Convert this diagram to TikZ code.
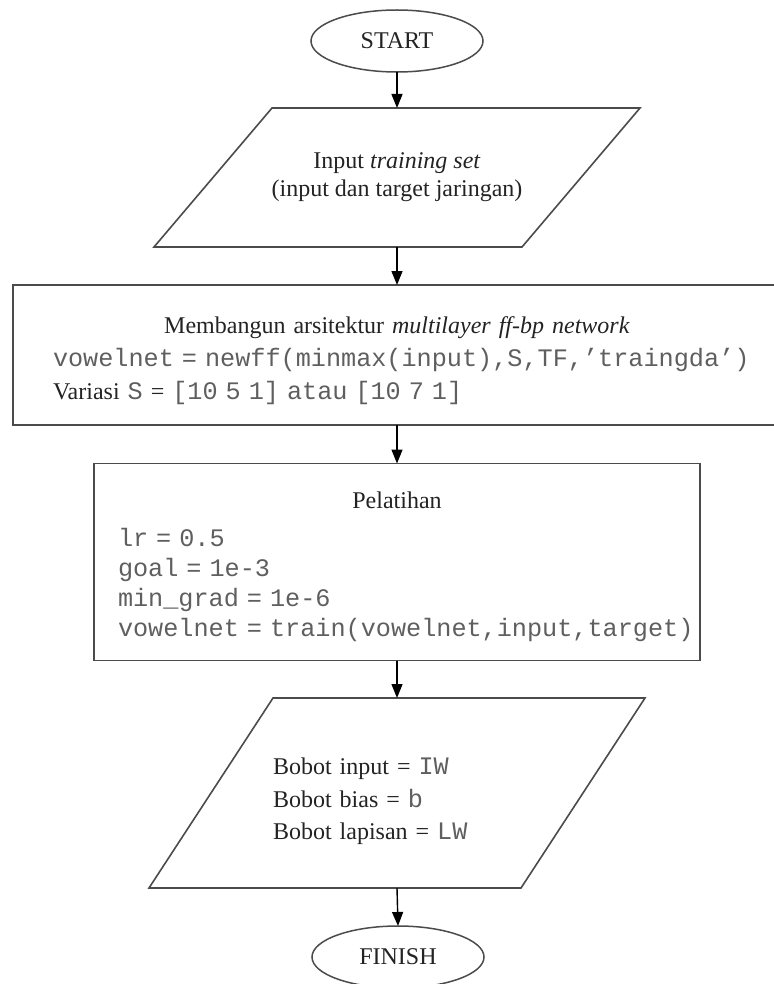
\documentclass[tikz,border=0pt]{standalone}
\usepackage{fontspec}
\setmainfont{Liberation Serif}
\setmonofont{Liberation Mono}[Scale=1.05]
\usepackage{tikz}
\usetikzlibrary{shapes.geometric, arrows.meta, positioning, calc}
\definecolor{edgegray}{RGB}{75, 75, 75}
\definecolor{inkgray}{RGB}{35, 35, 35}
\definecolor{codegray}{RGB}{95, 95, 95}
% monospace code with full-width spaces
\newcommand{\mono}[1]{{\ttfamily\fontdimen2\font=0.6em\fontdimen3\font=0pt\fontdimen4\font=0pt\color{codegray}#1}}
\newcommand{\midline}[1]{\leavevmode\hbox to \hsize{\hfil#1\hfil}}

\begin{document}
\begin{tikzpicture}[
  x=1pt, y=-1pt,
  terminal/.style={draw=edgegray, line width=1.5pt, ellipse, minimum width=172pt, minimum height=62pt, inner sep=0pt, outer sep=0pt, text=inkgray, font=\fontsize{24}{28}\selectfont},
  process/.style={draw=edgegray, line width=1.6pt, rectangle, align=left, inner ysep=0pt, outer sep=0pt, text=inkgray, font=\fontsize{24}{33}\selectfont},
  iobody/.style={rectangle, inner ysep=0pt, outer sep=0pt, text=inkgray},
  paraline/.style={draw=edgegray, line width=1.6pt, line join=miter},
  flow/.style={draw=black, line width=1.4pt, -{Triangle[length=14pt, width=11pt]}}
]
  \useasboundingbox (0,0) rectangle (773,984);

  \node[terminal] (start) at (397, 41) {START};

  \node[iobody, minimum width=368pt, minimum height=139pt, align=center, font=\fontsize{24}{28}\selectfont] (p1) at (397, 177.5) {
    Input \textit{training set}\\
    (input dan target jaringan)
  };
  \draw[paraline] ($(p1.north west)+(59,0)$) -- ($(p1.north east)+(59,0)$) -- ($(p1.south east)+(-59,0)$) -- ($(p1.south west)+(-59,0)$) -- cycle;

  \node[process, minimum width=768pt, minimum height=140pt, text width=688pt, inner xsep=40pt] (arch) at (397, 355) {
    \rule{0pt}{28pt}\midline{Membangun arsitektur \textit{multilayer ff-bp network}}\\
    \mbox{\mono{vowelnet = newff(minmax(input),S,TF,’traingda’)}}\\
    Variasi \mono{S} = \mono{[10 5 1] atau [10 7 1]}
  };

  \node[process, minimum width=606pt, minimum height=197pt, text width=558pt, inner xsep=24pt, font=\fontsize{24}{30}\selectfont] (train) at (397, 562) {
    \rule{0pt}{26pt}\midline{Pelatihan}\\[8pt]
    \mono{lr = 0.5}\\
    \mono{goal = 1e-3}\\
    \mono{min\_grad = 1e-6}\\
    \mbox{\mono{vowelnet = train(vowelnet,input,target)}}
  };

  \node[iobody, minimum width=372pt, minimum height=190pt, text width=248pt, inner xsep=62pt, align=left, font=\fontsize{24}{32.5}\selectfont] (p2) at (397, 793) {
    \rule{0pt}{34pt}Bobot input = \mono{IW}\\
    Bobot bias = \mono{b}\\
    Bobot lapisan = \mono{LW}
  };
  \draw[paraline] ($(p2.north west)+(62,0)$) -- ($(p2.north east)+(62,0)$) -- ($(p2.south east)+(-62,0)$) -- ($(p2.south west)+(-62,0)$) -- cycle;

  \node[terminal] (finish) at (398, 957) {FINISH};

  \draw[flow] (start.south) -- (p1.north);
  \draw[flow] (p1.south) -- (arch.north);
  \draw[flow] (arch.south) -- (train.north);
  \draw[flow] (train.south) -- (p2.north);
  \draw[flow] (p2.south) -- (finish.north);
\end{tikzpicture}
\end{document}
